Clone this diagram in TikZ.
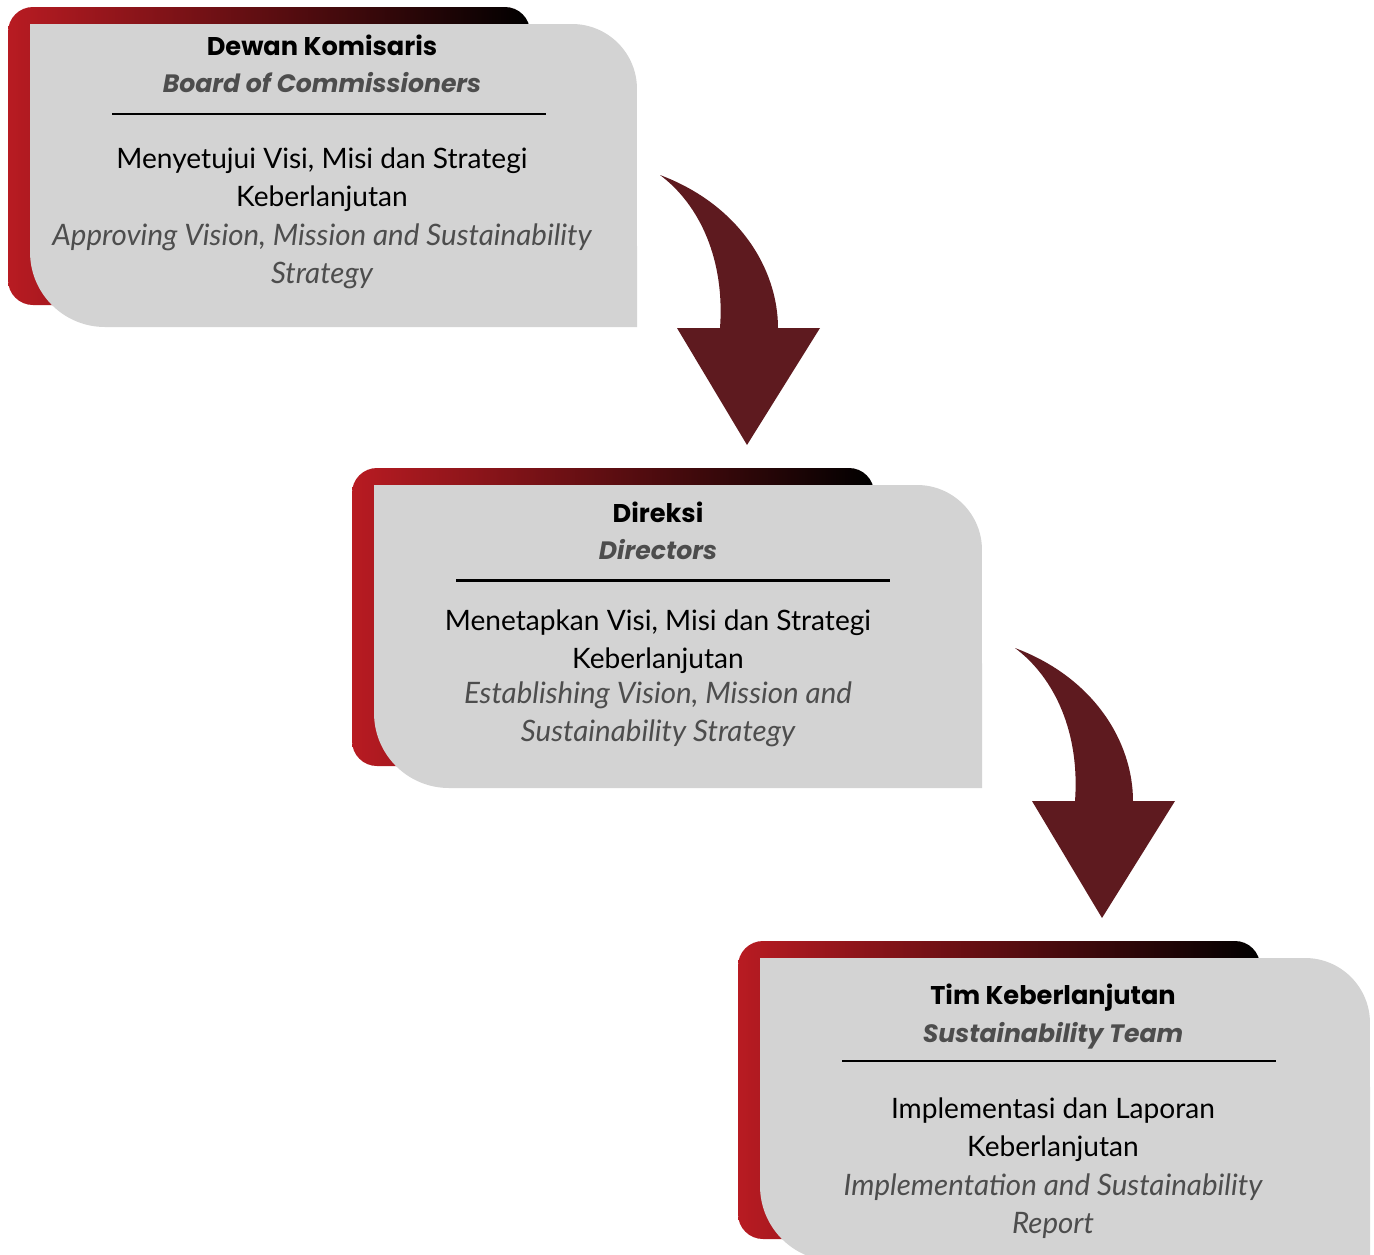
\documentclass[tikz,border=0pt]{standalone}
\usepackage{fontspec}
\setmainfont{Lato}
\newfontfamily\headfont{Poppins}
\usetikzlibrary{positioning}

\definecolor{boxgrey}{HTML}{D3D3D3}
\definecolor{boxred}{HTML}{B81B22}
\definecolor{arrowred}{HTML}{5E1A1F}
\definecolor{textgrey}{HTML}{4D4D4D}

\tikzset{
  titletext/.style={font=\headfont\bfseries\fontsize{14.6}{16}\selectfont},
  subtext/.style={font=\headfont\bfseries\itshape\fontsize{14.3}{16}\selectfont, text=textgrey},
  idtext/.style={font=\fontsize{16}{21.5}\selectfont, align=center},
  entext/.style={font=\itshape\fontsize{16.8}{21.5}\selectfont, align=center, text=textgrey},
}

\begin{document}
\begin{tikzpicture}[x=0.02cm, y=-0.02cm]
  \useasboundingbox (0,0) rectangle (1374,1255);
  % curved arrows between the levels
  \foreach \n/\ax/\ay in {1/0/0, 2/355/473}{
    \coordinate (arr\n) at (660+\ax,175+\ay);
    \fill[arrowred, shift={(\ax,\ay)}] (660,175) .. controls (740,205) and (778,270) .. (778,328)
      -- (820,328) -- (747,445) -- (677,328) -- (720,328)
      .. controls (725,260) and (700,205) .. (660,175) -- cycle;
  }
  % the three boxes
  \foreach \n/\bx/\by/\bw/\tx/\yt/\yr/\yi/\ye/\ttl/\sub/\idt/\ent in {
      1/30/24/607/292/21/90/156/232/{Dewan Komisaris}/{Board of Commissioners}/{Menyetujui Visi, Misi dan Strategi\\Keberlanjutan}/{Approving Vision, Mission and Sustainability\\Strategy},
      2/374/485/608/284/27/95.5/156.5/229.5/{Direksi}/{Directors}/{Menetapkan Visi, Misi dan Strategi\\Keberlanjutan}/{Establishing Vision, Mission and\\Sustainability Strategy},
      3/760/958/610/293/40/103/172/248/{Tim Keberlanjutan}/{Sustainability Team}/{Implementasi dan Laporan\\Keberlanjutan}/{Implementation and Sustainability\\Report}}{
    \begin{scope}[shift={(\bx,\by)}]
      \shade[left color=boxred, right color=black, rounded corners=0.5cm] (-22,-17) rectangle (500,281);
      \fill[boxgrey] (0,0) -- (\bw-65,0) arc[start angle=90, end angle=0, radius=1.3cm]
        -- (\bw,303) -- (75,303) arc[start angle=270, end angle=180, radius=1.5cm] -- cycle;
      \node[titletext] (title\n) at (\tx,\yt) {\ttl};
      \node[subtext] (sub\n) at (\tx,\yt+38) {\sub};
      \coordinate (rulel\n) at (82,\yr);
      \coordinate (ruler\n) at (516,\yr);
      \draw[line width=1.2pt] (rulel\n) -- (ruler\n);
      \node[idtext] (id\n) at (\tx,\yi) {\idt};
      \node[entext] (en\n) at (\tx,\ye) {\ent};
    \end{scope}
  }
\end{tikzpicture}
\end{document}
